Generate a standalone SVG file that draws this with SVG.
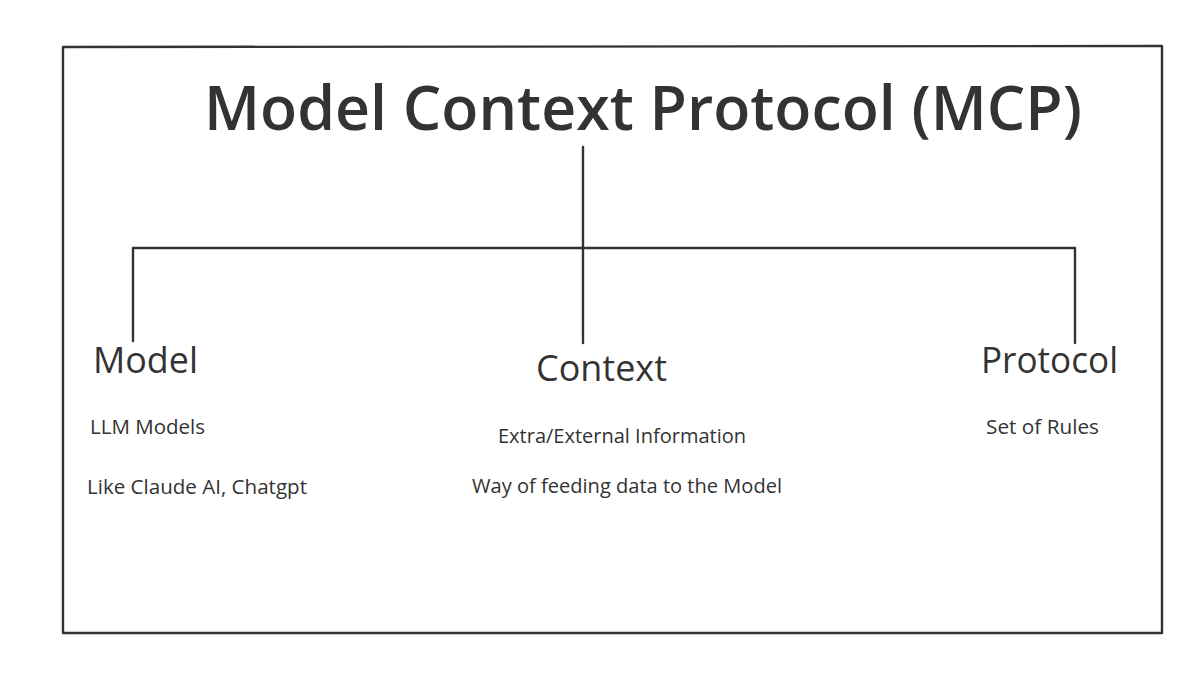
<svg xmlns="http://www.w3.org/2000/svg" width="1200" height="682" viewBox="0 0 1200 682">
<style>
  .ln{stroke:#333;stroke-width:2.4;fill:none;stroke-linecap:round}
  text{font-family:"Open Sans","Noto Sans",sans-serif;fill:#333}
  .title{font-size:62px;font-weight:600}
  .head{font-size:36px;font-weight:500}
  .sub{font-size:19.5px;font-weight:500}
</style>
<rect width="1200" height="682" fill="#ffffff"/>
<g id="frame">
  <path class="ln" d="M63 47 L1162 46 M1162 46 L1162 633 M1162 633 L63 633 M63 633 L63 47"/>
</g>
<g id="title">
  <text class="title" x="204" y="130" textLength="878" lengthAdjust="spacingAndGlyphs">Model Context Protocol (MCP)</text>
</g>
<g id="connectors">
  <path class="ln" d="M583 147 L583 343"/>
  <path class="ln" d="M133 248 L1075 248"/>
  <path class="ln" d="M133 248 L133 341"/>
  <path class="ln" d="M1075 248 L1075 343"/>
</g>
<g id="model">
  <text class="head" x="93" y="373" textLength="105" lengthAdjust="spacingAndGlyphs">Model</text>
  <text class="sub" x="90" y="434" textLength="115" lengthAdjust="spacingAndGlyphs">LLM Models</text>
  <text class="sub" x="87" y="494" textLength="220" lengthAdjust="spacingAndGlyphs">Like Claude AI, Chatgpt</text>
</g>
<g id="context">
  <text class="head" x="536" y="381" textLength="131" lengthAdjust="spacingAndGlyphs">Context</text>
  <text class="sub" x="498" y="443" textLength="248" lengthAdjust="spacingAndGlyphs">Extra/External Information</text>
  <text class="sub" x="472" y="493" textLength="310" lengthAdjust="spacingAndGlyphs">Way of feeding data to the Model</text>
</g>
<g id="protocol">
  <text class="head" x="981" y="373" textLength="137" lengthAdjust="spacingAndGlyphs">Protocol</text>
  <text class="sub" x="986" y="434" textLength="113" lengthAdjust="spacingAndGlyphs">Set of Rules</text>
</g>
</svg>
